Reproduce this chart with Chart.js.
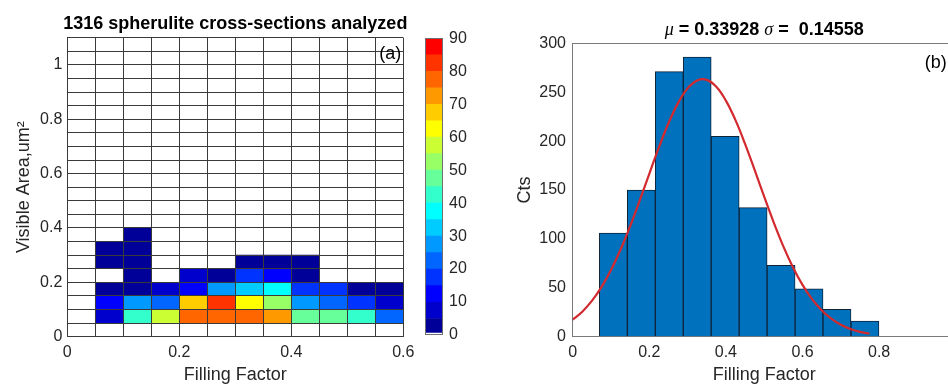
<!DOCTYPE html>
<html>
<head>
<meta charset="utf-8">
<script src="https://cdn.jsdelivr.net/npm/chart.js@4.4.1/dist/chart.umd.min.js"></script>
<style>
  html, body { margin: 0; padding: 0; background: #fff; overflow: hidden; width: 948px; height: 385px; }
  canvas { position: absolute; top: 0; }
  #heat { left: 0; }
  #cbar { left: 405px; }
  #hist { left: 480px; }
</style>
</head>
<body>
<canvas id="heat" width="425" height="385"></canvas>
<canvas id="cbar" width="65" height="385"></canvas>
<canvas id="hist" width="480" height="385"></canvas>
<script>
// ---- (a) 2D histogram: filling factor vs visible area ----
const HEAT_TITLE = '1316 spherulite cross-sections analyzed';
const FF_EDGES   = [0, 0.05, 0.10, 0.15, 0.20, 0.25, 0.30, 0.35, 0.40, 0.45, 0.50, 0.55, 0.60];
const AREA_STEP  = 0.05;
const AREA_MAX   = 1.1;
const AREA_LOWER = [0.05, 0.10, 0.15, 0.20, 0.25, 0.30, 0.35];
// one row per area bin, one column per filling-factor bin
const COUNTS = [
  [0,  7, 42, 57, 77, 78, 76, 72, 47, 48, 43, 22],   // 0.05-0.10
  [0, 12, 28, 23, 68, 83, 63, 53, 27, 22, 17,  6],   // 0.10-0.15
  [0,  4,  3,  8, 13, 28, 33, 38, 18, 17,  3,  3],   // 0.15-0.20
  [0,  0,  3,  0,  7,  3, 18, 12,  3,  0,  0,  0],   // 0.20-0.25
  [0,  2,  2,  0,  0,  0,  2,  2,  2,  0,  0,  0],   // 0.25-0.30
  [0,  2,  2,  0,  0,  0,  0,  0,  0,  0,  0,  0],   // 0.30-0.35
  [0,  0,  1,  0,  0,  0,  0,  0,  0,  0,  0,  0]    // 0.35-0.40
];
const CBAR_LEVELS = [0, 0.6, 5, 10, 15, 20, 25, 30, 35, 40, 45, 50, 55, 60, 65, 70, 75, 80, 85, 90];

// ---- (b) histogram of filling factor with normal fit ----
const HIST_TITLE = ['μ', ' = 0.33928 ', 'σ', ' =  0.14558'];
const BIN_EDGES  = [0.0696, 0.1426, 0.2156, 0.2886, 0.3616, 0.4346, 0.5076, 0.5806, 0.6536, 0.7266, 0.7996];
const BIN_COUNTS = [106, 150, 271, 286, 205, 132, 73, 49, 28, 16];
const FIT_X = [0, 0.025, 0.05, 0.075, 0.1, 0.125, 0.15, 0.175, 0.2, 0.225, 0.25, 0.275, 0.3, 0.325,
               0.35, 0.375, 0.4, 0.425, 0.45, 0.475, 0.5, 0.525, 0.55, 0.575, 0.6, 0.625, 0.65, 0.675,
               0.7, 0.725, 0.75, 0.775];
const FIT_Y = [17.4, 25.6, 36.6, 50.7, 68.2, 89.1, 113.1, 139.3, 166.6, 193.5, 218.2, 238.8, 253.9, 262.0,
               262.6, 255.5, 241.4, 221.4, 197.2, 170.5, 143.2, 116.7, 92.4, 71.0, 53.0, 38.4, 27.0, 18.4,
               12.2, 7.9, 4.9, 3.0];

const FONT = '"Liberation Sans", Arial, Helvetica, sans-serif';
const TXT = '#262626';

// MATLAB jet(18)
const JET18 = [
  [0,0,0.6],[0,0,0.8],[0,0,1],[0,0.2,1],[0,0.4,1],[0,0.6,1],[0,0.8,1],[0,1,1],[0.2,1,0.8],
  [0.4,1,0.6],[0.6,1,0.4],[0.8,1,0.2],[1,1,0],[1,0.8,0],[1,0.6,0],[1,0.4,0],[1,0.2,0],[1,0,0]
];
function jetColor(v) {
  if (v < 0.6) return '#ffffff';
  const c = JET18[Math.min(17, Math.floor(v / 5))];
  return `rgb(${Math.round(c[0]*255)},${Math.round(c[1]*255)},${Math.round(c[2]*255)})`;
}

function every02(v) {
  const k = Math.round(v * 100);
  return k % 20 === 0 ? String(k / 100) : '';
}

// no label overhang padding, the plot box is placed by hand
function noOverhang(s) {
  s.paddingLeft = 0; s.paddingRight = 0; s.paddingTop = 0; s.paddingBottom = 0;
}

// ---------- heat map ----------
const areaGrid = [];
for (let k = 0; k * AREA_STEP <= AREA_MAX + 1e-9; k++) areaGrid.push(+(k * AREA_STEP).toFixed(2));

const heatSets = AREA_LOWER.map((lo, r) => {
  const cols = COUNTS[r].map((c, i) => ({ c, i })).filter(o => o.c > 0);
  return {
    data: cols.map(o => ({ x: (FF_EDGES[o.i] + FF_EDGES[o.i + 1]) / 2, y: [lo, lo + AREA_STEP] })),
    backgroundColor: cols.map(o => jetColor(o.c)),
    borderWidth: 0,
    grouped: false,
    barPercentage: 1,
    categoryPercentage: 1
  };
});

const heatText = {
  id: 'heatText',
  afterDraw(chart) {
    const { ctx, chartArea: a } = chart;
    ctx.save();
    ctx.fillStyle = '#000';
    ctx.textBaseline = 'middle';
    ctx.textAlign = 'center';
    ctx.font = 'bold 18px ' + FONT;
    ctx.fillText(HEAT_TITLE, (a.left + a.right) / 2, a.top - 14);
    ctx.textAlign = 'right';
    ctx.font = '18px ' + FONT;
    ctx.fillText('(a)', a.right - 2, a.top + 16);
    ctx.restore();
  }
};

new Chart(document.getElementById('heat'), {
  type: 'bar',
  data: { datasets: heatSets },
  options: {
    responsive: false,
    animation: false,
    layout: { padding: { top: 37.7, right: 21.7, left: 0, bottom: 0 } },
    plugins: { legend: { display: false }, tooltip: { enabled: false } },
    scales: {
      x: {
        type: 'linear', min: 0, max: 0.6, offset: false,
        afterBuildTicks: s => { s.ticks = FF_EDGES.map(v => ({ value: v })); },
        grid: { offset: false, color: '#3a3a3a', lineWidth: 1, drawTicks: false, z: 1 },
        border: { color: '#3a3a3a', z: 1 },
        ticks: { autoSkip: false, maxRotation: 0, padding: 6.7, color: TXT,
                 font: { family: FONT, size: 16 }, callback: every02 },
        title: { display: true, text: 'Filling Factor', color: TXT, padding: { top: 0, bottom: 1 },
                 font: { family: FONT, size: 18, lineHeight: 1 } },
        afterFit: s => { s.height = 48.3; noOverhang(s); }
      },
      y: {
        type: 'linear', min: 0, max: AREA_MAX,
        afterBuildTicks: s => { s.ticks = areaGrid.map(v => ({ value: v })); },
        grid: { offset: false, color: '#3a3a3a', lineWidth: 1, drawTicks: false, z: 1 },
        border: { color: '#3a3a3a', z: 1 },
        ticks: { autoSkip: false, padding: 5, color: TXT,
                 font: { family: FONT, size: 16 }, callback: every02 },
        title: { display: true, text: 'Visible Area,um²', color: TXT, padding: { top: 15, bottom: 0 },
                 font: { family: FONT, size: 18, lineHeight: 1 } },
        afterFit: s => { s.width = 67.3; noOverhang(s); }
      }
    }
  },
  plugins: [heatText]
});

// ---------- colour bar ----------
const cbarSets = CBAR_LEVELS.slice(0, -1).map((lo, k) => ({
  data: [[lo, CBAR_LEVELS[k + 1]]],
  backgroundColor: jetColor((lo + CBAR_LEVELS[k + 1]) / 2),
  borderWidth: 0,
  grouped: false,
  barPercentage: 1,
  categoryPercentage: 1
}));

const cbarFrame = {
  id: 'cbarFrame',
  afterDatasetsDraw(chart) {
    const { ctx, chartArea: a } = chart;
    ctx.save();
    ctx.strokeStyle = '#6f6f6f';
    ctx.lineWidth = 1;
    ctx.strokeRect(Math.round(a.left) + 0.5, Math.round(a.top) + 0.5,
                   Math.round(a.right - a.left) - 1, Math.round(a.bottom - a.top) - 1);
    ctx.restore();
  }
};

new Chart(document.getElementById('cbar'), {
  type: 'bar',
  data: { labels: [''], datasets: cbarSets },
  options: {
    responsive: false,
    animation: false,
    layout: { padding: { top: 38.3, left: 20, right: 0, bottom: 50 } },
    plugins: { legend: { display: false }, tooltip: { enabled: false } },
    scales: {
      x: { display: false },
      y: {
        position: 'right', min: 0, max: 90,
        grid: { display: false, drawTicks: false },
        border: { display: false },
        ticks: { stepSize: 10, padding: 6.3, color: TXT, font: { family: FONT, size: 16 } },
        afterFit: s => { s.width = 27.3; noOverhang(s); }
      }
    }
  },
  plugins: [cbarFrame]
});

// ---------- histogram ----------
const histText = {
  id: 'histText',
  afterDraw(chart) {
    const { ctx, chartArea: a } = chart;
    const fonts = ['italic 18px "Liberation Serif", serif', 'bold 18px ' + FONT,
                   'italic 18px "Liberation Serif", serif', 'bold 18px ' + FONT];
    ctx.save();
    ctx.fillStyle = '#000';
    ctx.textBaseline = 'middle';
    ctx.textAlign = 'left';
    let total = 0;
    const widths = HIST_TITLE.map((t, i) => { ctx.font = fonts[i]; const w = ctx.measureText(t).width; total += w; return w; });
    let x = (a.left + a.right) / 2 - total / 2;
    HIST_TITLE.forEach((t, i) => { ctx.font = fonts[i]; ctx.fillText(t, x, a.top - 13); x += widths[i]; });
    ctx.textAlign = 'right';
    ctx.font = '18px ' + FONT;
    ctx.fillText('(b)', a.right - 9, a.top + 20);
    ctx.restore();
  }
};

new Chart(document.getElementById('hist'), {
  type: 'bar',
  data: {
    datasets: [
      {
        type: 'line',
        data: FIT_X.map((x, i) => ({ x, y: FIT_Y[i] })),
        borderColor: '#d22a2f',
        borderWidth: 2.2,
        pointRadius: 0,
        tension: 0.4,
        fill: false,
        order: 0
      },
      {
        type: 'bar',
        data: BIN_COUNTS.map((c, i) => ({ x: (BIN_EDGES[i] + BIN_EDGES[i + 1]) / 2, y: c })),
        backgroundColor: '#0072bd',
        borderColor: '#0f2338',
        borderWidth: 1,
        barPercentage: 1,
        categoryPercentage: 1,
        order: 1
      }
    ]
  },
  options: {
    responsive: false,
    animation: false,
    layout: { padding: { top: 43.3, right: 4.3, left: 0, bottom: 0 } },
    plugins: { legend: { display: false }, tooltip: { enabled: false } },
    scales: {
      x: {
        type: 'linear', min: 0, max: 1, offset: false,
        grid: { display: false, offset: false, drawTicks: false },
        border: { color: '#7a7a7a' },
        ticks: { stepSize: 0.2, maxRotation: 0, padding: 6.7, color: TXT,
                 font: { family: FONT, size: 16 }, callback: v => String(Math.round(v * 10) / 10) },
        title: { display: true, text: 'Filling Factor', color: TXT, padding: { top: 0, bottom: 1 },
                 font: { family: FONT, size: 18, lineHeight: 1 } },
        afterFit: s => { s.height = 48.3; noOverhang(s); }
      },
      y: {
        min: 0, max: 300,
        grid: { drawTicks: false, color: c => c.tick && c.tick.value === 300 ? '#7a7a7a' : 'rgba(0,0,0,0)' },
        border: { color: '#7a7a7a' },
        ticks: { stepSize: 50, padding: 6.7, color: TXT, font: { family: FONT, size: 16 } },
        title: { display: true, text: 'Cts', color: TXT, padding: { top: 36, bottom: 0 },
                 font: { family: FONT, size: 18, lineHeight: 1 } },
        afterFit: s => { s.width = 92.7; noOverhang(s); }
      }
    }
  },
  plugins: [histText]
});
</script>
</body>
</html>
